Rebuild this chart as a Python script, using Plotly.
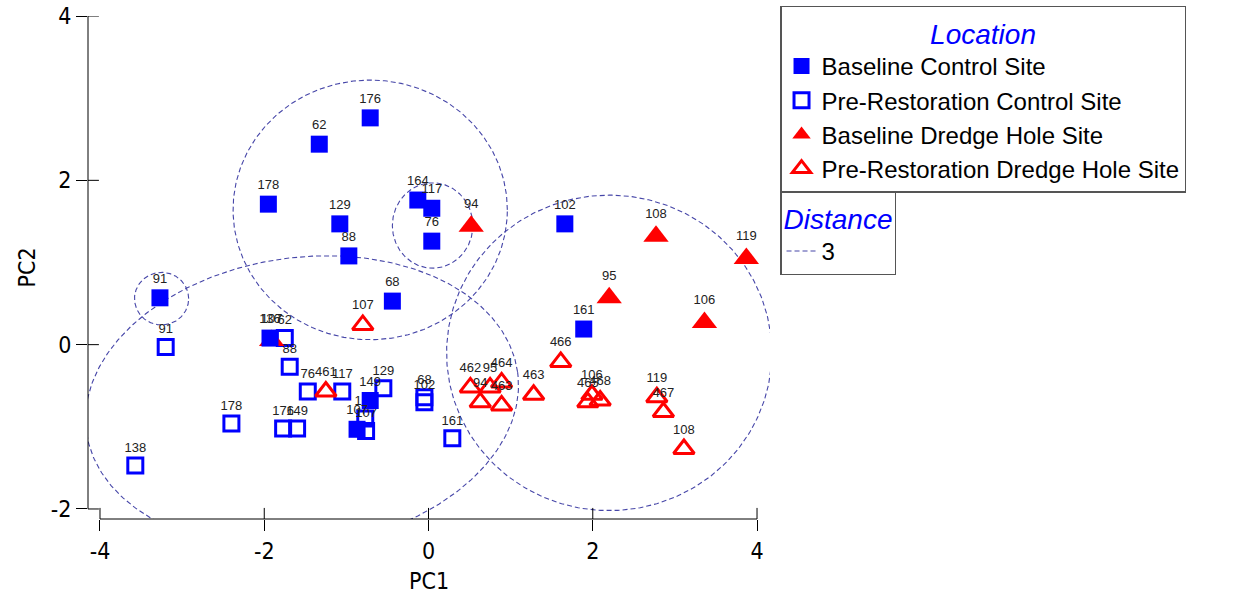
import numpy as np
import plotly.graph_objects as go

# ---------------- data ----------------
bc_labels = ["176", "62", "178", "129", "88", "164", "117", "76", "68", "91", "136", "102", "161", "149", "107"]
bc_x = [-0.71, -1.33, -1.95, -1.08, -0.97, -0.13, 0.04, 0.04, -0.44, -3.27, -1.93, 1.66, 1.89, -0.71, -0.87]
bc_y = [2.76, 2.44, 1.71, 1.47, 1.08, 1.76, 1.66, 1.26, 0.53, 0.57, 0.08, 1.47, 0.19, -0.68, -1.03]

pc_labels = ["91", "138", "178", "176", "149", "62", "88", "76", "117", "129", "68", "102", "161", "107", "164"]
pc_x = [-3.20, -3.57, -2.40, -1.77, -1.60, -1.75, -1.69, -1.47, -1.05, -0.55, -0.05, -0.05, 0.29, -0.76, -0.77]
pc_y = [-0.03, -1.47, -0.96, -1.02, -1.02, 0.08, -0.27, -0.57, -0.57, -0.53, -0.64, -0.70, -1.14, -1.05, -0.90]

bd_labels = ["94", "108", "119", "95", "106", "107"]
bd_x = [0.52, 2.77, 3.87, 2.20, 3.36, -1.91]
bd_y = [1.44, 1.32, 1.05, 0.57, 0.27, 0.05]

pd_labels = ["107", "461", "466", "463", "119", "467", "108", "106", "465", "468", "462", "95", "464", "94", "463"]
pd_x = [-0.80, -1.25, 1.61, 1.28, 2.78, 2.86, 3.11, 1.99, 1.94, 2.09, 0.51, 0.75, 0.89, 0.63, 0.89]
pd_y = [0.24, -0.57, -0.21, -0.61, -0.64, -0.82, -1.27, -0.61, -0.70, -0.68, -0.52, -0.52, -0.46, -0.70, -0.74]

# cluster outlines at distance 3 (centre, semi-axes, rotation in degrees)
cl_cx = [-0.71, 0.05, -3.25, -1.54, 2.20]
cl_cy = [1.64, 1.45, 0.56, -0.70, -0.10]
cl_rx = [1.67, 0.49, 0.33, 2.65, 1.98]
cl_ry = [1.58, 0.52, 0.32, 1.76, 1.92]
cl_rot = [0, 0, 0, 8, 0]

x_ticks = [-4, -2, 0, 2, 4]
y_ticks = [-2, 0, 2, 4]

# ---------------- style ----------------
BLUE = "#0000ff"
RED = "#ff0000"
OUTLINE = "#4646a8"
TICKFONT = "Liberation Sans Narrow, Arial Narrow, DejaVu Sans Condensed, Liberation Sans, Arial, sans-serif"
TEXTFONT = "Liberation Sans, Arial, sans-serif"

fig = go.Figure()

# cluster outlines
t = np.linspace(0, 2 * np.pi, 361)
for i, (cx, cy, rx, ry, rot) in enumerate(zip(cl_cx, cl_cy, cl_rx, cl_ry, cl_rot)):
    a = np.deg2rad(rot)
    ex = cx + rx * np.cos(t) * np.cos(a) - ry * np.sin(t) * np.sin(a)
    ey = cy + rx * np.cos(t) * np.sin(a) + ry * np.sin(t) * np.cos(a)
    fig.add_trace(go.Scatter(
        x=ex, y=ey, mode="lines",
        line=dict(color=OUTLINE, width=1.1, dash="5px,3px"),
        hoverinfo="skip",
        name="3", legend="legend2", showlegend=(i == 0),
    ))

label_font = dict(family=TEXTFONT, size=13, color="#222222")

def pts(x, y, labels, name, symbol, color, size, lw=0):
    return go.Scatter(
        x=x, y=y, mode="markers+text", text=labels, textposition="top center",
        textfont=label_font, name=name, legend="legend",
        marker=dict(symbol=symbol, size=size, color=color,
                    line=dict(color=color, width=lw)),
    )

fig.add_trace(pts(pc_x, pc_y, pc_labels, "Pre-Restoration Control Site", "square-open", BLUE, 15, 3))
fig.add_trace(pts(pd_x, pd_y, pd_labels, "Pre-Restoration Dredge Hole Site", "triangle-up-open", RED, 18, 3))
fig.add_trace(pts(bd_x, bd_y, bd_labels, "Baseline Dredge Hole Site", "triangle-up", RED, 22))
fig.add_trace(pts(bc_x, bc_y, bc_labels, "Baseline Control Site", "square", BLUE, 17))

# reorder legend entries to match the reference
order = {"Baseline Control Site": 1, "Pre-Restoration Control Site": 2,
         "Baseline Dredge Hole Site": 3, "Pre-Restoration Dredge Hole Site": 4}
for tr in fig.data:
    if tr.name in order:
        tr.legendrank = order[tr.name]

# axis lines (detached, as in the reference) and inner halves of ticks
shapes = [
    dict(type="line", xref="paper", yref="y", x0=0, x1=0, y0=min(y_ticks), y1=max(y_ticks),
         line=dict(color="black", width=1)),
    dict(type="line", xref="x", yref="paper", x0=min(x_ticks), x1=max(x_ticks), y0=0, y1=0,
         line=dict(color="black", width=1)),
]
for xv in x_ticks:
    shapes.append(dict(type="line", xref="x", yref="paper", x0=xv, x1=xv, y0=0, y1=0.022,
                       line=dict(color="black", width=1)))
for yv in y_ticks:
    shapes.append(dict(type="line", xref="paper", yref="y", x0=0, x1=0.016, y0=yv, y1=yv,
                       line=dict(color="black", width=1)))

axis_font = dict(family=TICKFONT, size=23, color="black")

fig.update_layout(
    width=1243, height=594,
    margin=dict(l=88, r=473, t=16, b=75, autoexpand=False),
    paper_bgcolor="white", plot_bgcolor="white",
    shapes=shapes,
    showlegend=True,
    xaxis=dict(range=[-4.146, 4.158], tickvals=x_ticks, ticktext=[str(v) for v in x_ticks],
               showgrid=False, zeroline=False,
               showline=False, ticks="outside", ticklen=11, tickcolor="black",
               tickfont=axis_font,
               title=dict(text="PC1", font=axis_font, standoff=10)),
    yaxis=dict(range=[-2.122, 4.0], tickvals=y_ticks, ticktext=[str(v) for v in y_ticks],
               showgrid=False, zeroline=False,
               showline=False, ticks="outside", ticklen=11, tickcolor="black",
               tickfont=axis_font,
               title=dict(text="PC2", font=axis_font, standoff=8)),
    legend=dict(
        x=1.0147, y=1.0199, xanchor="left", yanchor="top",
        bgcolor="white", bordercolor="#555555", borderwidth=1.5,
        font=dict(family=TEXTFONT, size=24, color="black"),
        title=dict(text="Location", side="top center",
                   font=dict(family=TEXTFONT, size=28, color=BLUE, style="italic")),
        traceorder="normal", itemclick=False,
    ),
    legend2=dict(
        x=1.0147, y=0.652, xanchor="left", yanchor="top",
        bgcolor="white", bordercolor="#555555", borderwidth=1.5,
        font=dict(family=TEXTFONT, size=24, color="black"),
        title=dict(text="Distance", side="top",
                   font=dict(family=TEXTFONT, size=28, color=BLUE, style="italic")),
        itemclick=False,
    ),
)

fig.write_html("out.html")
